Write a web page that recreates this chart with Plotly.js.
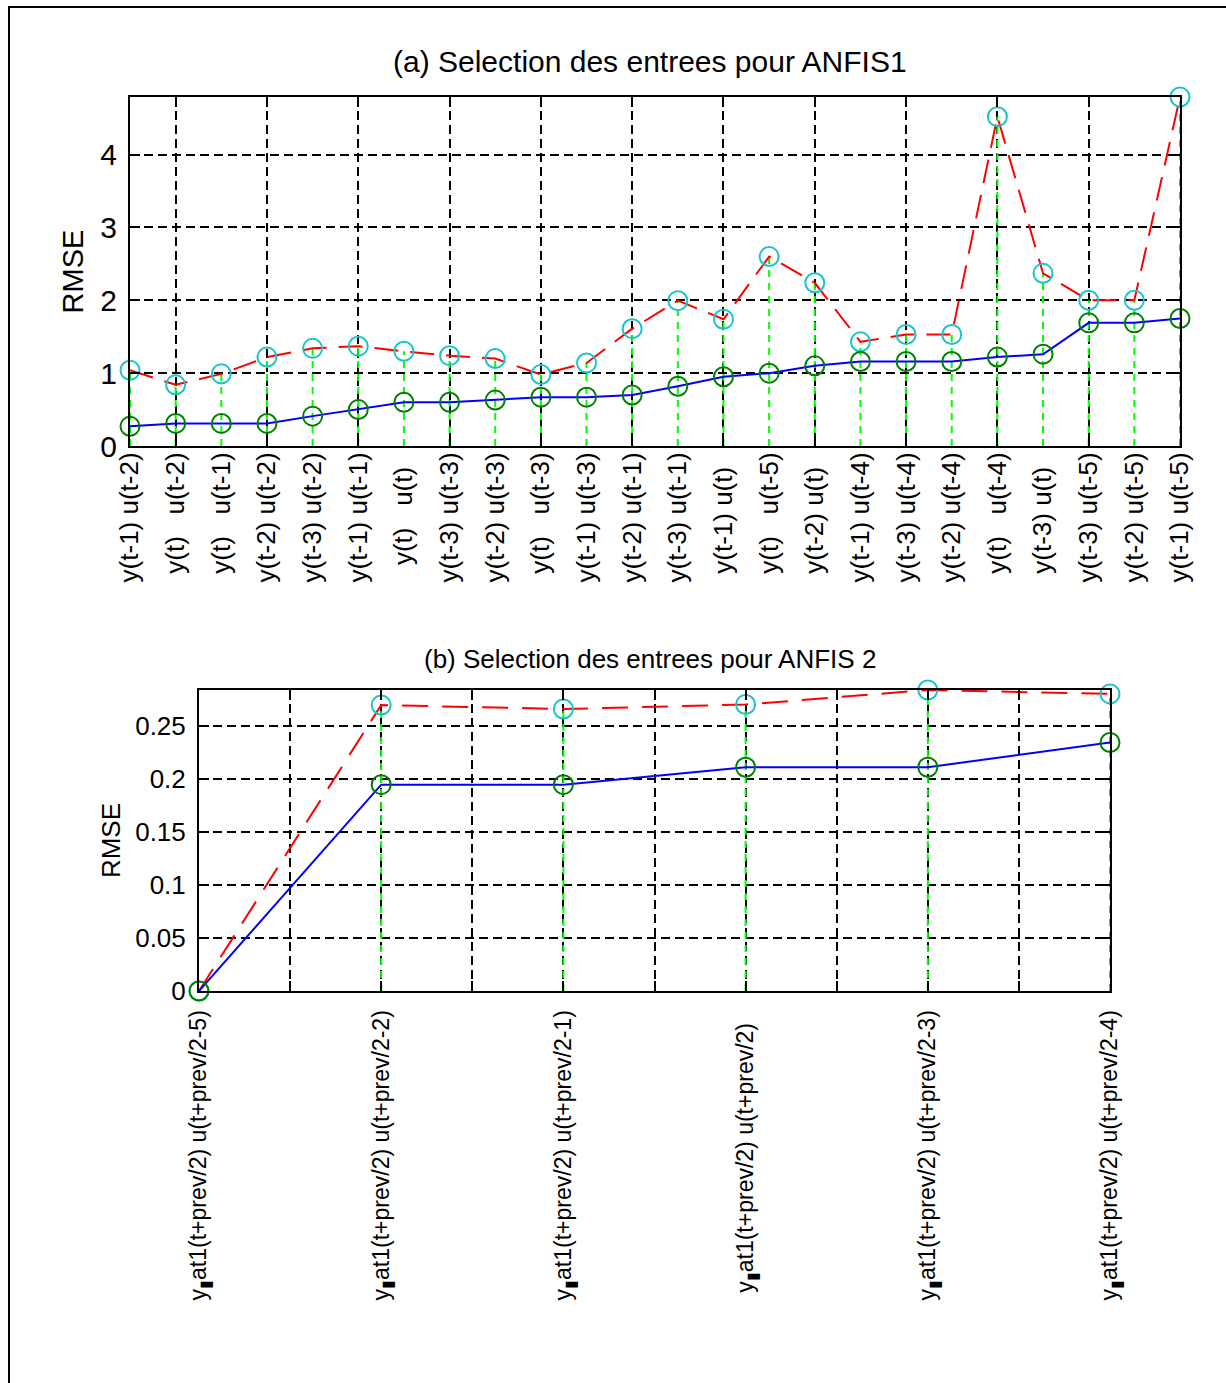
<!DOCTYPE html>
<html><head><meta charset="utf-8">
<script src="https://cdn.plot.ly/plotly-3.0.1.min.js"></script>
<style>
html,body{margin:0;padding:0;background:#fff;overflow:hidden}
#chart{position:absolute;left:0;top:0;width:1226px;height:1383px}
#frame{position:absolute;left:8px;top:6px;width:1240px;height:1400px;border-left:2px solid #000;border-top:2px solid #000;pointer-events:none}
</style></head>
<body>
<div id="chart"></div><div id="frame"></div>
<script>
// ---- (a) ANFIS1 input selection ----
const labelsA = [
  "y(t-1) u(t-2)", "y(t)   u(t-2)", "y(t)   u(t-1)", "y(t-2) u(t-2)", "y(t-3) u(t-2)",
  "y(t-1) u(t-1)", "y(t)   u(t)  ", "y(t-3) u(t-3)", "y(t-2) u(t-3)", "y(t)   u(t-3)",
  "y(t-1) u(t-3)", "y(t-2) u(t-1)", "y(t-3) u(t-1)", "y(t-1) u(t)  ", "y(t)   u(t-5)",
  "y(t-2) u(t)  ", "y(t-1) u(t-4)", "y(t-3) u(t-4)", "y(t-2) u(t-4)", "y(t)   u(t-4)",
  "y(t-3) u(t)  ", "y(t-3) u(t-5)", "y(t-2) u(t-5)", "y(t-1) u(t-5)"
];
const rmseA_red = [1.04, 0.84, 0.99, 1.22, 1.34, 1.37, 1.30, 1.24, 1.20, 0.98, 1.14, 1.61,
                   1.995, 1.74, 2.60, 2.24, 1.43, 1.53, 1.53, 4.52, 2.37, 2.00, 2.00, 4.79];
const rmseA_blue = [0.27, 0.31, 0.31, 0.31, 0.41, 0.50, 0.60, 0.60, 0.63, 0.67, 0.67, 0.70,
                    0.82, 0.95, 1.00, 1.10, 1.16, 1.16, 1.16, 1.22, 1.26, 1.69, 1.69, 1.75];

// ---- (b) ANFIS 2 input selection ----
const labelsB = [
  "y<sub>▮</sub>at1(t+prev/2) u(t+prev/2-5)",
  "y<sub>▮</sub>at1(t+prev/2) u(t+prev/2-2)",
  "y<sub>▮</sub>at1(t+prev/2) u(t+prev/2-1)",
  "y<sub>▮</sub>at1(t+prev/2) u(t+prev/2)  ",
  "y<sub>▮</sub>at1(t+prev/2) u(t+prev/2-3)",
  "y<sub>▮</sub>at1(t+prev/2) u(t+prev/2-4)"
];
const rmseB_red = [0, 0.2695, 0.2658, 0.2700, 0.2837, 0.2800];
const rmseB_blue = [0, 0.1945, 0.1945, 0.2109, 0.2109, 0.2342];

const FONT = "Liberation Sans, Arial, sans-serif";
const W = 1226, H = 1383;
const nb = s => s.replace(/ /g, "\u00A0");
const idx = arr => arr.map((_, i) => i + 1);

function stems(vals, xa, ya) {
  const x = [], y = [];
  vals.forEach((v, i) => { x.push(i + 1, i + 1, null); y.push(0, v, null); });
  return {x, y, xaxis: xa, yaxis: ya, mode: 'lines', hoverinfo: 'skip', showlegend: false,
          line: {color: '#00ff00', width: 2, dash: '7px,6px'}, cliponaxis: false};
}
function series(vals, xa, ya, color, dash, mcolor) {
  return {x: idx(vals), y: vals, xaxis: xa, yaxis: ya, mode: 'lines+markers', showlegend: false,
          line: {color, width: 2, dash},
          marker: {symbol: 'circle-open', size: 19, color: mcolor, line: {width: 2, color: mcolor}},
          cliponaxis: false};
}
// invisible carrier so the grid-only overlay axes get drawn
function carrier(vals, xa, ya) {
  return {x: idx(vals), y: vals, xaxis: xa, yaxis: ya, mode: 'markers', showlegend: false,
          hoverinfo: 'skip', marker: {opacity: 0, size: 1}};
}

const data = [
  carrier(rmseA_blue, 'x2', 'y'),
  carrier(rmseB_blue, 'x4', 'y2'),
  stems(rmseA_red, 'x', 'y'),
  series(rmseA_red, 'x', 'y', '#ff0000', '24px,12px', '#1cc4c8'),
  series(rmseA_blue, 'x', 'y', '#0000ff', 'solid', '#008000'),
  stems(rmseB_red, 'x3', 'y2'),
  series(rmseB_red, 'x3', 'y2', '#ff0000', '26px,14px', '#1cc4c8'),
  series(rmseB_blue, 'x3', 'y2', '#0000ff', 'solid', '#008000')
];

const domA = {x: [130 / W, 1180 / W], y: [1 - 446 / H, 1 - 97 / H]};
const domB = {x: [199 / W, 1110 / W], y: [1 - 991 / H, 1 - 690 / H]};

const gridStyle = {showgrid: true, gridcolor: '#000', gridwidth: 2, griddash: '9px,5px'};
const boxLine = {showline: true, linecolor: '#000', linewidth: 2, zeroline: false};

const layout = {
  width: W, height: H,
  margin: {l: 0, r: 0, t: 0, b: 0},
  paper_bgcolor: '#fff', plot_bgcolor: '#fff',
  font: {family: FONT, color: '#000'},
  showlegend: false,
  xaxis: Object.assign({domain: domA.x, anchor: 'y', range: [1, 24], tickmode: 'array',
    tickvals: idx(labelsA), ticktext: labelsA.map(nb), tickangle: -90, ticks: '',
    showgrid: false, mirror: true, tickfont: {size: 26, family: FONT}, ticklabelstandoff: -6}, boxLine),
  xaxis2: Object.assign({overlaying: 'x', anchor: 'y', range: [1, 24], tick0: 0, dtick: 2,
    ticks: 'inside', ticklen: 10, tickwidth: 2, tickcolor: '#000', mirror: 'ticks',
    showticklabels: false}, gridStyle, boxLine),
  yaxis: Object.assign({domain: domA.y, anchor: 'x', range: [0, 4.79], dtick: 1, tick0: 0,
    ticks: 'inside', ticklen: 10, tickwidth: 2, tickcolor: '#000', mirror: 'ticks',
    tickfont: {size: 30, family: FONT}, ticklabelstandoff: 5,
    title: {text: 'RMSE', font: {size: 29, family: FONT}, standoff: 8}}, gridStyle, boxLine),

  xaxis3: Object.assign({domain: domB.x, anchor: 'y2', range: [1, 6], tickmode: 'array',
    tickvals: idx(labelsB), ticktext: labelsB.map(nb), tickangle: -90, ticks: '',
    showgrid: false, mirror: true, tickfont: {size: 23, family: FONT}, ticklabelstandoff: 8}, boxLine),
  xaxis4: Object.assign({overlaying: 'x3', anchor: 'y2', range: [1, 6], tick0: 0, dtick: 0.5,
    ticks: 'inside', ticklen: 10, tickwidth: 2, tickcolor: '#000', mirror: 'ticks',
    showticklabels: false}, gridStyle, boxLine),
  yaxis2: Object.assign({domain: domB.y, anchor: 'x3', range: [0, 0.2837], dtick: 0.05, tick0: 0,
    ticks: 'inside', ticklen: 10, tickwidth: 2, tickcolor: '#000', mirror: 'ticks',
    tickfont: {size: 26, family: FONT}, ticklabelstandoff: 6,
    title: {text: 'RMSE', font: {size: 26, family: FONT}, standoff: 7}}, gridStyle, boxLine),

  annotations: [
    {text: '(a) Selection des entrees pour ANFIS1', xref: 'paper', yref: 'paper',
     x: 650 / W, y: 1 - 62 / H, xanchor: 'center', yanchor: 'middle', showarrow: false,
     font: {size: 30, family: FONT, color: '#000'}},
    {text: '(b) Selection des entrees pour ANFIS 2', xref: 'paper', yref: 'paper',
     x: 650 / W, y: 1 - 659 / H, xanchor: 'center', yanchor: 'middle', showarrow: false,
     font: {size: 26, family: FONT, color: '#000'}}
  ]
};

Plotly.newPlot('chart', data, layout, {staticPlot: true, displayModeBar: false});
</script>
</body></html>
